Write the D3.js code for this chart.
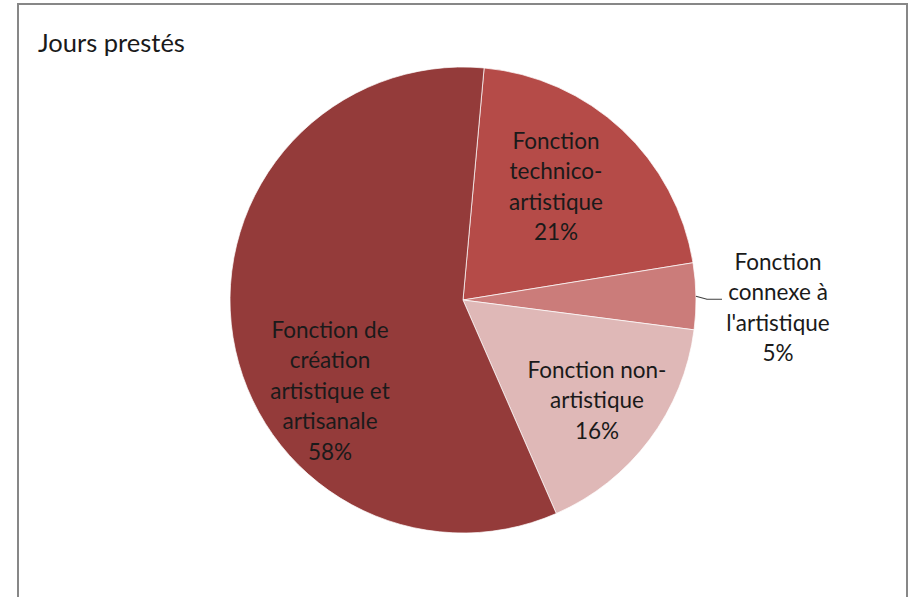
<!DOCTYPE html>
<html>
<head>
<meta charset="utf-8">
<script src="https://cdn.jsdelivr.net/npm/d3@7"></script>
<style>
  body { margin: 0; background: #fff; }
  text { font-family: Lato, "Open Sans", sans-serif; fill: #1a1a1a; }
</style>
</head>
<body>
<div id="chart"></div>
<script>
// data
var categories = ["Fonction technico-artistique", "Fonction connexe à l'artistique", "Fonction non-artistique", "Fonction de création artistique et artisanale"];
var values = [21.0, 4.6, 16.4, 58.0];
var pctLabels = ["21%", "5%", "16%", "58%"];
var labelLines = [
    ["Fonction", "technico-", "artistique"],
    ["Fonction", "connexe à", "l'artistique"],
    ["Fonction non-", "artistique"],
    ["Fonction de", "création", "artistique et", "artisanale"]
];
var colors = ["#B54B48", "#CB7C7A", "#DFB8B7", "#943B3A"];

var plot = {
    width: 910,
    height: 597,
    cx: 463,
    cy: 300,
    r: 233,
    startDeg: 5.2,
    lineH: 30.5,
    fontSize: 22.5
};

// label centres (first line) for each slice
var labelPos = [
    {x: 556, y: 141},
    {x: 778, y: 262},
    {x: 597, y: 370},
    {x: 330, y: 330}
];

var svg = d3.select("#chart").append("svg")
    .attr("width", plot.width)
    .attr("height", plot.height);

// chart frame
svg.append("rect")
    .attr("x", 18)
    .attr("y", 4)
    .attr("width", 889)
    .attr("height", 620)
    .attr("fill", "none")
    .attr("stroke", "#878787")
    .attr("stroke-width", 2);

svg.append("text")
    .attr("x", 38)
    .attr("y", 52)
    .attr("font-size", "25.5px")
    .text("Jours prestés");

var data = categories.map((c, i) => ({name: c, value: values[i], index: i}));

var start = plot.startDeg * Math.PI / 180;
var pie = d3.pie()
    .sort(null)
    .value(d => d.value)
    .startAngle(start)
    .endAngle(start + 2 * Math.PI);

var arc = d3.arc().innerRadius(0).outerRadius(plot.r);

var g = svg.append("g")
    .attr("transform", `translate(${plot.cx},${plot.cy})`);

var arcs = pie(data);

g.selectAll("path")
    .data(arcs)
    .join("path")
    .attr("d", arc)
    .attr("fill", d => colors[d.data.index])
    .attr("stroke", "#fff")
    .attr("stroke-width", 0.7);

// leader line for the small slice
var small = arcs[1];
var mid = (small.startAngle + small.endAngle) / 2;
var ex = plot.cx + Math.sin(mid) * plot.r;
var ey = plot.cy - Math.cos(mid) * plot.r;
svg.append("polyline")
    .attr("points", `${ex},${ey} ${ex + 11},${ey + 3} ${labelPos[1].x - 56},${ey + 3}`)
    .attr("fill", "none")
    .attr("stroke", "#404040")
    .attr("stroke-width", 1.2);

// labels
var lbl = svg.append("g");
data.forEach(function (d, i) {
    var lines = labelLines[i].concat([pctLabels[i]]);
    var t = lbl.append("text")
        .attr("text-anchor", "middle")
        .attr("font-size", plot.fontSize + "px");
    lines.forEach(function (ln, j) {
        t.append("tspan")
            .attr("x", labelPos[i].x)
            .attr("y", labelPos[i].y + j * plot.lineH)
            .attr("dy", "0.35em")
            .text(ln);
    });
});
</script>
</body>
</html>
